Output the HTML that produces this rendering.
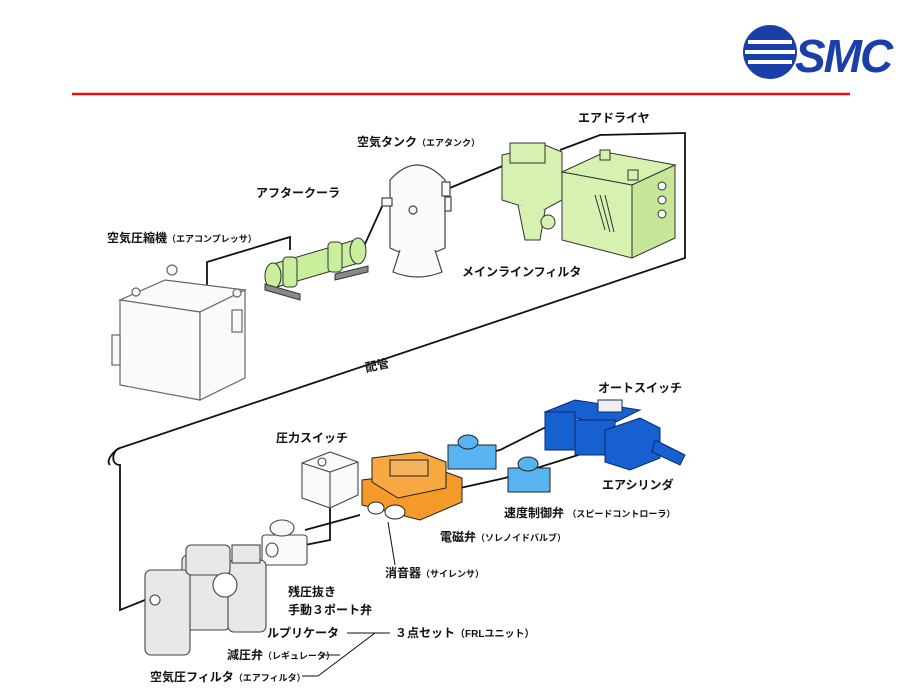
<!DOCTYPE html>
<html><head><meta charset="utf-8"><style>
html,body{margin:0;padding:0;background:#fff;width:920px;height:690px;overflow:hidden}
svg text{font-family:"Liberation Sans","Noto Sans CJK JP",sans-serif;font-weight:bold;fill:#111}
</style></head><body>
<svg width="920" height="690" viewBox="0 0 920 690" xmlns="http://www.w3.org/2000/svg">
<!-- logo -->
<g>
<circle cx="770" cy="52" r="27" fill="#1a3fa8"/>
<path d="M748 42 h44 M745 52 h50 M748 62 h44" stroke="#fff" stroke-width="4"/>
<text x="795" y="72" font-size="46" style="fill:#1a3fa8;font-style:italic;letter-spacing:-2px">SMC</text>
</g>
<line x1="72" y1="94" x2="850" y2="94" stroke="#e01010" stroke-width="2.5"/>

<!-- pipes -->
<g fill="none" stroke="#111" stroke-width="1.8">
<path d="M207 285 V262 L290 237 V250"/>
<path d="M360 255 L385 200 L390 205"/>
<path d="M445 190 L505 165"/>
<path d="M560 150 L600 135 L685 133 V258 L120 448 C112 450 110 465 120 465 V610 L145 600"/>
<path d="M110 465 C105 460 115 450 120 448"/>
<path d="M290 548 L330 540 L330 505"/>
<path d="M305 530 L360 515"/>
<path d="M460 460 L500 450 L560 420"/>
<path d="M460 488 L505 478 L610 445"/>
</g>

<!-- compressor -->
<g stroke="#666" stroke-width="1.2" fill="#fafafa">
<path d="M120 300 L165 280 L245 290 L200 312 Z"/>
<path d="M120 300 V385 L200 400 V312 Z"/>
<path d="M200 312 L245 290 V378 L200 400 Z"/>
<rect x="112" y="335" width="8" height="30"/>
<circle cx="172" cy="270" r="5"/><circle cx="136" cy="292" r="4"/><circle cx="237" cy="293" r="4"/>
<rect x="232" y="310" width="10" height="22"/>
</g>
<!-- aftercooler -->
<g stroke="#333" stroke-width="1" fill="#c9ef9d">
<path d="M270 265 L355 240 L362 262 L277 287 Z"/>
<ellipse cx="273" cy="276" rx="8" ry="13"/>
<ellipse cx="358" cy="251" rx="8" ry="13"/>
<rect x="283" y="257" width="14" height="30" rx="4"/>
<rect x="328" y="242" width="14" height="30" rx="4"/>
<path d="M265 290 L300 300 L300 294 L265 284 Z" fill="#888"/>
<path d="M335 280 L368 272 L368 266 L335 274 Z" fill="#888"/>
</g>
<!-- tank -->
<g stroke="#444" stroke-width="1.2" fill="#fafafa">
<path d="M390 180 Q417 150 445 180 V248 Q417 262 390 248 Z"/>
<path d="M400 250 L393 272 Q418 282 442 272 L435 250"/>
<circle cx="413" cy="210" r="4"/>
<rect x="382" y="198" width="10" height="8"/><rect x="442" y="182" width="8" height="14"/><rect x="445" y="197" width="6" height="14"/>
</g>
<!-- main line filter -->
<g stroke="#333" stroke-width="1" fill="#d7f1b0">
<path d="M502 155 L545 145 L562 152 V200 L540 212 L502 200 Z"/>
<rect x="510" y="143" width="35" height="20"/>
<path d="M518 205 L525 240 L540 240 L545 210"/>
<circle cx="548" cy="222" r="7"/>
</g>
<!-- dryer -->
<g stroke="#333" stroke-width="1" fill="#d7f1b0">
<path d="M562 172 L605 152 L675 165 L632 185 Z"/>
<path d="M562 172 V240 L632 258 V185 Z"/>
<path d="M632 185 L675 165 V238 L632 258 Z" fill="#c6e79a"/>
<path d="M595 195 L605 230 M600 195 L610 232 M605 195 L614 232" stroke="#333"/>
<circle cx="662" cy="186" r="4" fill="#fff"/><circle cx="662" cy="200" r="4" fill="#fff"/><circle cx="662" cy="214" r="4" fill="#fff"/>
<rect x="600" y="150" width="10" height="10"/><rect x="628" y="170" width="10" height="10"/>
</g>
<!-- pressure switch -->
<g stroke="#444" stroke-width="1.1" fill="#fafafa">
<path d="M302 463 L330 452 L358 462 V495 L330 508 L302 498 Z"/>
<path d="M302 463 L330 472 L358 462 M330 472 V508"/>
<circle cx="322" cy="462" r="4"/>
</g>
<!-- hand valve -->
<g stroke="#444" stroke-width="1.1" fill="#fafafa">
<rect x="262" y="535" width="45" height="30" rx="3"/>
<ellipse cx="282" cy="528" rx="12" ry="8"/>
<ellipse cx="272" cy="550" rx="6" ry="7"/>
</g>
<!-- solenoid valve -->
<g stroke="#222" stroke-width="1" fill="#f49a2a">
<path d="M362 480 L440 470 L462 478 V502 L420 520 L362 505 Z"/>
<path d="M372 458 L420 452 L446 462 L446 488 L398 498 L372 482 Z" fill="#f7a840"/>
<rect x="390" y="460" width="38" height="16" fill="#f4b25a"/>
<ellipse cx="395" cy="512" rx="10" ry="7" fill="#fff"/>
<ellipse cx="376" cy="508" rx="8" ry="6" fill="#fff"/>
</g>
<!-- speed controllers -->
<g stroke="#222" stroke-width="1" fill="#58b4f0">
<rect x="448" y="445" width="48" height="24"/>
<ellipse cx="468" cy="442" rx="10" ry="7"/>
<rect x="508" y="468" width="42" height="24"/>
<ellipse cx="528" cy="464" rx="10" ry="7"/>
</g>
<!-- cylinder -->
<g stroke="#0a2870" stroke-width="1" fill="#1660d0">
<path d="M545 412 L575 400 L640 410 L610 425 Z"/>
<rect x="545" y="412" width="30" height="38"/>
<rect x="575" y="420" width="40" height="35"/>
<path d="M605 430 L640 418 L660 428 L660 458 L630 470 L605 462 Z"/>
<path d="M655 440 L685 455 L680 465 L652 452 Z"/>
<rect x="598" y="400" width="24" height="12" fill="#eee"/>
</g>
<!-- FRL -->
<g stroke="#444" stroke-width="1.1" fill="#e8e8e8">
<rect x="182" y="555" width="48" height="75" rx="6"/>
<rect x="228" y="560" width="38" height="72" rx="6"/>
<rect x="145" y="570" width="45" height="85" rx="6"/>
<rect x="186" y="545" width="44" height="30" rx="5"/>
<circle cx="225" cy="585" r="12" fill="#fff"/>
<rect x="232" y="545" width="28" height="18"/>
<circle cx="155" cy="600" r="5" fill="#fff"/>
</g>

<!-- labels -->
<g font-size="12">
<text x="578" y="122">エアドライヤ</text>
<text x="357" y="146">空気タンク<tspan font-size="9">（エアタンク）</tspan></text>
<text x="256" y="197">アフタークーラ</text>
<text x="107" y="242">空気圧縮機<tspan font-size="9">（エアコンプレッサ）</tspan></text>
<text x="462" y="276">メインラインフィルタ</text>
<text x="365" y="369" transform="rotate(-12 380 365)">配管</text>
<text x="598" y="392">オートスイッチ</text>
<text x="276" y="442">圧力スイッチ</text>
<text x="602" y="489">エアシリンダ</text>
<text x="504" y="517">速度制御弁 <tspan font-size="9">（スピードコントローラ）</tspan></text>
<text x="440" y="541">電磁弁<tspan font-size="9">（ソレノイドバルブ）</tspan></text>
<text x="385" y="577">消音器<tspan font-size="9">（サイレンサ）</tspan></text>
<text x="288" y="596">残圧抜き</text>
<text x="288" y="614">手動３ポート弁</text>
<text x="267" y="637">ルプリケータ</text>
<text x="395" y="637">３点セット<tspan font-size="10">（FRLユニット）</tspan></text>
<text x="227" y="659">減圧弁<tspan font-size="9">（レギュレータ）</tspan></text>
<text x="150" y="681">空気圧フィルタ<tspan font-size="9">（エアフィルタ）</tspan></text>
</g>
<g fill="none" stroke="#111" stroke-width="1">
<path d="M347 633 H390 M375 633 L318 676 H302 M340 655 H322"/>
<path d="M395 565 L388 522"/>
</g>
</svg>
</body></html>
